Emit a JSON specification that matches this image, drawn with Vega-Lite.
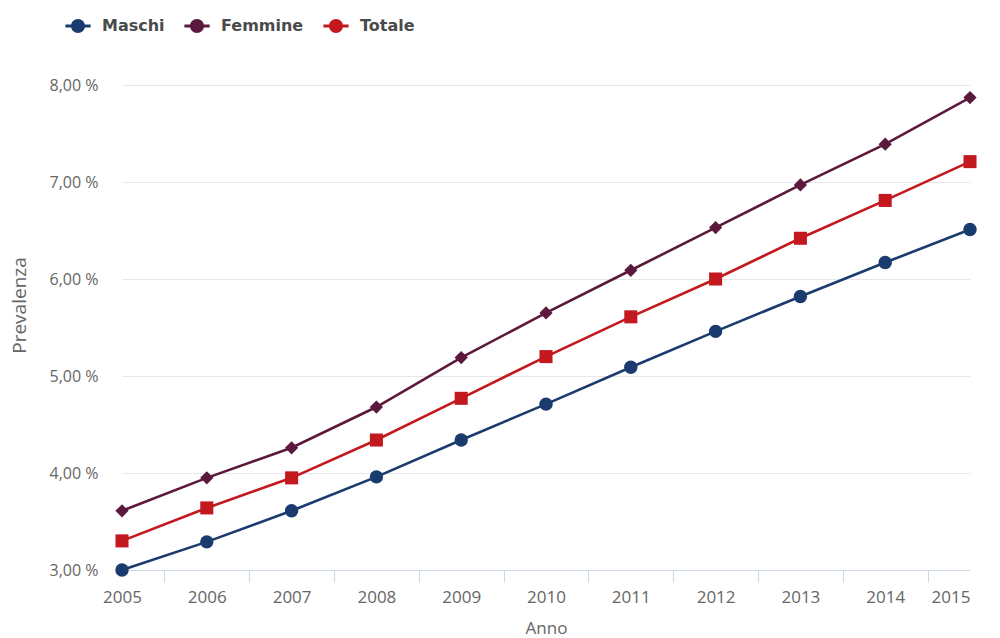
{
  "$schema": "https://vega.github.io/schema/vega-lite/v6.json",
  "width": 848,
  "height": 485,
  "autosize": {"type": "none"},
  "padding": {"left": 122, "top": 85, "right": 30, "bottom": 68},
  "background": "white",
  "config": {"view": {"stroke": null}, "font": "Open Sans"},
  "data": {
    "values": [
      {"anno": 2005, "serie": "Maschi", "valore": 3.00},
      {"anno": 2006, "serie": "Maschi", "valore": 3.29},
      {"anno": 2007, "serie": "Maschi", "valore": 3.61},
      {"anno": 2008, "serie": "Maschi", "valore": 3.96},
      {"anno": 2009, "serie": "Maschi", "valore": 4.34},
      {"anno": 2010, "serie": "Maschi", "valore": 4.71},
      {"anno": 2011, "serie": "Maschi", "valore": 5.09},
      {"anno": 2012, "serie": "Maschi", "valore": 5.46},
      {"anno": 2013, "serie": "Maschi", "valore": 5.82},
      {"anno": 2014, "serie": "Maschi", "valore": 6.17},
      {"anno": 2015, "serie": "Maschi", "valore": 6.51},
      {"anno": 2005, "serie": "Femmine", "valore": 3.61},
      {"anno": 2006, "serie": "Femmine", "valore": 3.95},
      {"anno": 2007, "serie": "Femmine", "valore": 4.26},
      {"anno": 2008, "serie": "Femmine", "valore": 4.68},
      {"anno": 2009, "serie": "Femmine", "valore": 5.19},
      {"anno": 2010, "serie": "Femmine", "valore": 5.65},
      {"anno": 2011, "serie": "Femmine", "valore": 6.09},
      {"anno": 2012, "serie": "Femmine", "valore": 6.53},
      {"anno": 2013, "serie": "Femmine", "valore": 6.97},
      {"anno": 2014, "serie": "Femmine", "valore": 7.39},
      {"anno": 2015, "serie": "Femmine", "valore": 7.87},
      {"anno": 2005, "serie": "Totale", "valore": 3.30},
      {"anno": 2006, "serie": "Totale", "valore": 3.64},
      {"anno": 2007, "serie": "Totale", "valore": 3.95},
      {"anno": 2008, "serie": "Totale", "valore": 4.34},
      {"anno": 2009, "serie": "Totale", "valore": 4.77},
      {"anno": 2010, "serie": "Totale", "valore": 5.20},
      {"anno": 2011, "serie": "Totale", "valore": 5.61},
      {"anno": 2012, "serie": "Totale", "valore": 6.00},
      {"anno": 2013, "serie": "Totale", "valore": 6.42},
      {"anno": 2014, "serie": "Totale", "valore": 6.81},
      {"anno": 2015, "serie": "Totale", "valore": 7.21}
    ]
  },
  "resolve": {"legend": {"color": "independent"}},
  "encoding": {
    "x": {
      "field": "anno",
      "type": "quantitative",
      "scale": {"domain": [2005, 2015], "nice": false, "zero": false},
      "axis": {
        "values": [2005, 2006, 2007, 2008, 2009, 2010, 2011, 2012, 2013, 2014, 2015],
        "format": "d",
        "title": "Anno",
        "grid": false,
        "domainColor": "#ccd6eb",
        "tickColor": "#ccd6eb",
        "tickSize": 12,
        "tickOffset": 42.4,
        "labelOffset": -42.4,
        "labelFlush": false,
        "labelOverlap": false,
        "labelAlign": {"condition": {"test": "datum.value == 2015", "value": "right"}, "value": "center"},
        "labelPadding": 7,
        "labelFontSize": 17,
        "labelColor": "#666666",
        "titleFontSize": 17,
        "titleFontWeight": "normal",
        "titleColor": "#666666",
        "titlePadding": 15
      }
    },
    "y": {
      "field": "valore",
      "type": "quantitative",
      "scale": {"domain": [3, 8], "nice": false, "zero": false},
      "axis": {
        "values": [3, 4, 5, 6, 7, 8],
        "labelExpr": "replace(format(datum.value, '.2f'), '.', ',') + ' %'",
        "grid": true,
        "gridColor": "#e6e6ec",
        "domain": false,
        "ticks": false,
        "labelPadding": 24,
        "labelFontSize": 16,
        "labelColor": "#666666",
        "title": "Prevalenza",
        "titleAngle": 270,
        "titleX": -97,
        "titleY": 220,
        "titleAlign": "center",
        "titleBaseline": "alphabetic",
        "titleFontSize": 19,
        "titleFontWeight": "normal",
        "titleColor": "#666666"
      }
    }
  },
  "layer": [
    {
      "mark": {"type": "line", "strokeWidth": 2.6},
      "encoding": {
        "color": {
          "field": "serie",
          "type": "nominal",
          "scale": {"domain": ["Maschi", "Femmine", "Totale"], "range": ["#1a3b6e", "#5b1a3d", "#c4181f"]},
          "legend": null
        }
      }
    },
    {
      "mark": {"type": "point", "filled": true, "opacity": 1},
      "encoding": {
        "color": {
          "field": "serie",
          "type": "nominal",
          "scale": {"domain": ["Maschi", "Femmine", "Totale"], "range": ["#1a3b6e", "#5b1a3d", "#c4181f"]},
          "legend": {
            "orient": "none",
            "legendX": -52,
            "legendY": -67,
            "direction": "horizontal",
            "title": null,
            "padding": 0,
            "symbolSize": 196,
            "symbolType": "M-1.8,-0.2H1.8V0.2H-1.8Z M1,0A1,1,0,1,1,-1,0A1,1,0,1,1,1,0Z",
            "symbolStrokeWidth": 0,
            "symbolOpacity": 1,
            "labelOffset": 16,
            "columnPadding": 19,
            "labelFont": "DejaVu Sans",
            "labelFontSize": 16,
            "labelFontWeight": "bold",
            "labelColor": "#4a4a4a"
          }
        },
        "shape": {
          "field": "serie",
          "type": "nominal",
          "scale": {"domain": ["Maschi", "Femmine", "Totale"], "range": ["circle", "diamond", "square"]},
          "legend": null
        },
        "size": {
          "field": "serie",
          "type": "nominal",
          "scale": {"domain": ["Maschi", "Femmine", "Totale"], "range": [180, 170, 250]},
          "legend": null
        }
      }
    }
  ]
}
